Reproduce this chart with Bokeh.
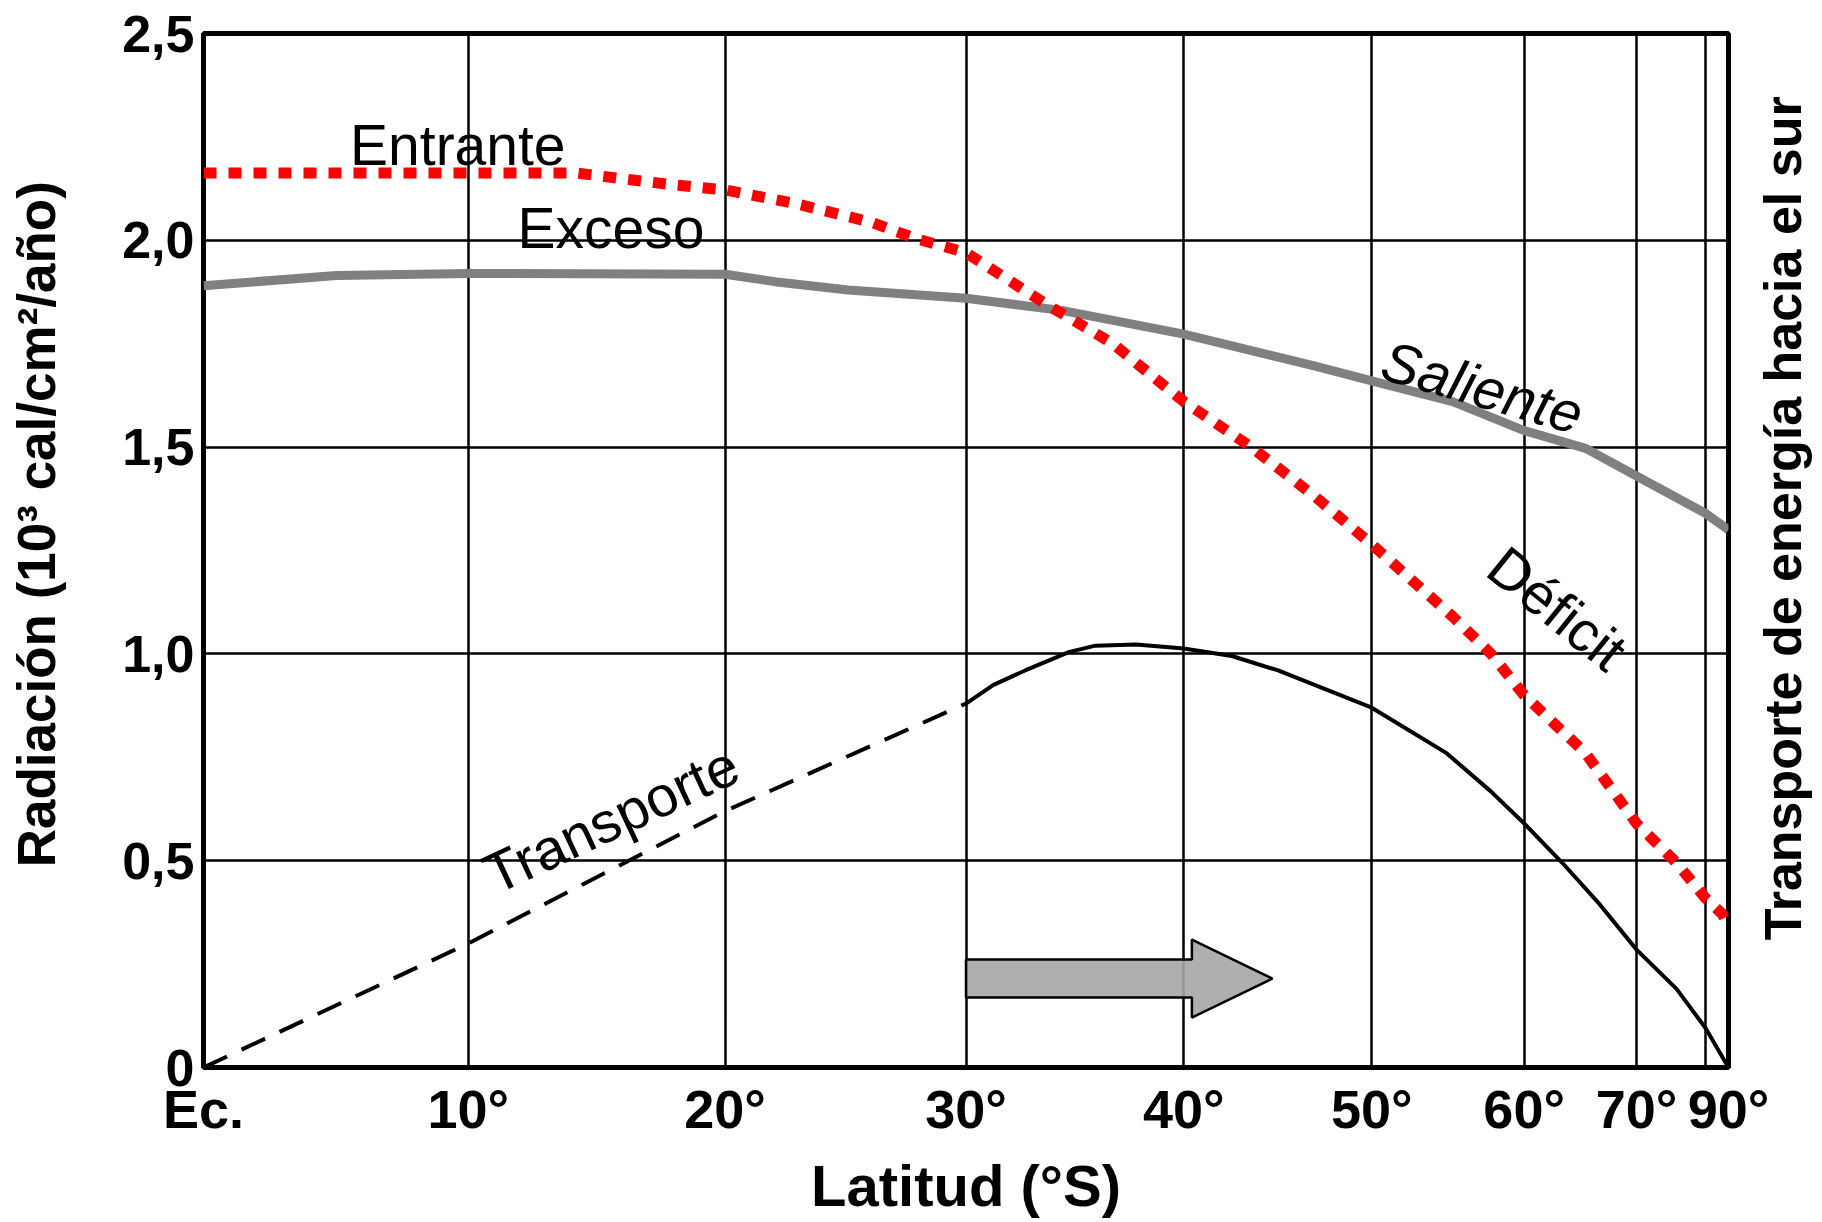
import numpy as np
from bokeh.plotting import figure
from bokeh.layouts import row
from bokeh.models import (Range1d, FixedTicker, CustomJSTickFormatter, Label)
from bokeh.embed import file_html
from bokeh.resources import INLINE

# ---------------- data ----------------
lat_ticks = [0, 10, 20, 30, 40, 50, 60, 70, 80, 90]
y_ticks = [0, 0.5, 1.0, 1.5, 2.0, 2.5]

entrante_lat = [0, 10, 14.1, 16.2, 18.1, 20, 22.9, 26, 27.8, 30, 33.7, 35, 36.6, 40,
                43.4, 46.8, 50, 55, 57.6, 60, 65, 70, 75, 80, 85, 90]
entrante_val = [2.163, 2.163, 2.163, 2.147, 2.133, 2.122, 2.088, 2.043, 2.005, 1.97,
                1.84, 1.80, 1.75, 1.61, 1.50, 1.38, 1.265, 1.09, 1.0, 0.90, 0.76,
                0.59, 0.495, 0.41, 0.37, 0.34]

saliente_lat = [0, 5, 10, 20, 22, 25, 30, 34.3, 40, 46.8, 50, 55, 60, 65, 70, 80, 90]
saliente_val = [1.89, 1.915, 1.92, 1.918, 1.90, 1.88, 1.86, 1.83, 1.773, 1.696, 1.66,
                1.61, 1.54, 1.497, 1.43, 1.34, 1.30]

transp_dash_lat = [0, 10, 20, 30]
transp_dash_val = [0.0, 0.30, 0.62, 0.88]

transp_lat = [30, 31.2, 32.6, 34.6, 35.8, 37.7, 40, 42.4, 44.8, 50, 54.6, 57.6, 60,
              63, 66.1, 70, 75, 80, 90]
transp_val = [0.88, 0.925, 0.96, 1.005, 1.02, 1.023, 1.013, 0.995, 0.96, 0.87, 0.76,
              0.667, 0.59, 0.495, 0.40, 0.285, 0.19, 0.096, 0.0]

# southward-transport arrow (latitudes of tail, head base, tip; radiation level)
arrow_lats = [30, 40.4, 44.5]
arrow_level = 0.215

LEFT_TITLE = "Radiaci\u00f3n (10\u00b3 cal/cm\u00b2/a\u00f1o)"
RIGHT_TITLE = "Transporte de energ\u00eda hacia el sur"
X_TITLE = "Latitud (\u00b0S)"


def sx(lat):
    """Area-weighted latitude scale: position = sin(latitude)."""
    return np.sin(np.radians(np.asarray(lat, dtype=float)))


FONT = "Liberation Sans"
H = 1220
LEFT_W, RIGHT_W = 100, 87                  # side strips holding the vertical titles
MB_L, MB_R, MB_T, MB_B = 103, 92, 33, 153  # borders of the main figure
FRAME_W = 1525
MAIN_W = MB_L + FRAME_W + MB_R
frame_h = H - MB_T - MB_B

p = figure(width=MAIN_W, height=H, output_backend="svg", toolbar_location=None,
           x_range=Range1d(0, 1), y_range=Range1d(0, 2.5),
           min_border_left=MB_L, min_border_right=MB_R, min_border_top=MB_T,
           min_border_bottom=MB_B)
p.background_fill_color = "white"
p.border_fill_color = "white"
p.outline_line_color = "black"
p.outline_line_width = 5

xax = p.xaxis[0]
xax.ticker = FixedTicker(ticks=list(sx(lat_ticks)))
xax.formatter = CustomJSTickFormatter(code="""
const lat = Math.round(Math.asin(Math.max(-1, Math.min(1, tick))) * 180 / Math.PI);
if (lat === 0) return "Ec.";
if (lat === 80) return "";
return lat + "\u00b0";
""")
xax.axis_label = X_TITLE
xax.axis_label_text_font_size = "58px"
xax.axis_label_standoff = 11
xax.major_label_text_font_size = "54px"
xax.major_label_standoff = 5

yax = p.yaxis[0]
yax.ticker = FixedTicker(ticks=y_ticks)
yax.formatter = CustomJSTickFormatter(code="""
if (tick === 0) return "0";
return tick.toFixed(1).replace(".", ",");
""")
yax.major_label_text_font_size = "52px"
yax.major_label_standoff = 3

for ax in (xax, yax):
    ax.axis_line_color = None
    ax.major_tick_line_color = None
    ax.minor_tick_line_color = None
    ax.axis_label_text_font = FONT
    ax.axis_label_text_font_style = "bold"
    ax.axis_label_text_color = "black"
    ax.major_label_text_font = FONT
    ax.major_label_text_font_style = "bold"
    ax.major_label_text_color = "black"

# ---- grid ----
p.xgrid.ticker = FixedTicker(ticks=list(sx(lat_ticks)))
p.ygrid.ticker = FixedTicker(ticks=y_ticks)
for g in (p.xgrid[0], p.ygrid[0]):
    g.grid_line_color = "black"
    g.grid_line_width = 2.5
    g.grid_line_alpha = 1.0

# ---- curves ----
p.line(sx(saliente_lat), saliente_val, line_color="#808080", line_width=9,
       line_cap="butt", line_join="round")
p.line(sx(entrante_lat), entrante_val, line_color="#ff0000", line_width=11,
       line_dash="13 12", line_cap="butt")
p.line(sx(transp_dash_lat), transp_dash_val, line_color="black", line_width=4,
       line_dash="26 16")
p.line(sx(transp_lat), transp_val, line_color="black", line_width=4, line_join="round")

# ---- arrow (patch built from the arrow parameters) ----
px_per_unit = frame_h / 2.5
shaft = 19 / px_per_unit
head = 39 / px_per_unit
xa, xb, xc = sx(arrow_lats)
ax_x = [xa, xb, xb, xc, xb, xb, xa]
ax_y = [arrow_level + shaft, arrow_level + shaft, arrow_level + head, arrow_level,
        arrow_level - head, arrow_level - shaft, arrow_level - shaft]
p.patch(ax_x, ax_y, fill_color="#a6a6a6", fill_alpha=0.9, line_color="black",
        line_width=2.5)

# ---- curve annotations ----
def note(text, lat, val, angle_deg=0, style="normal", size="57px"):
    p.add_layout(Label(x=float(sx(lat)), y=val, text=text, angle=np.radians(angle_deg),
                       text_align="center", text_baseline="middle",
                       text_font=FONT, text_font_size=size, text_font_style=style,
                       text_color="black"))

note("Entrante", 9.6, 2.23)
note("Exceso", 15.5, 2.03)
note("Saliente", 57.0, 1.645, angle_deg=-16, style="italic")
note("D\u00e9ficit", 62.6, 1.11, angle_deg=-39)
note("Transporte", 15.5, 0.60, angle_deg=25)


# ---- side strips carrying the two vertical titles (read bottom to top) ----
def title_strip(width, text, cx, cy, size, transparent=False):
    s = figure(width=width, height=H, output_backend="svg", toolbar_location=None,
               x_range=Range1d(0, width), y_range=Range1d(0, H),
               x_axis_location=None, y_axis_location=None, min_border=0)
    s.grid.visible = False
    s.outline_line_color = None
    s.background_fill_color = None if transparent else "white"
    s.border_fill_color = None if transparent else "white"
    s.add_layout(Label(x=cx, y=H - cy, text=text, angle=np.pi / 2,
                       text_align="center", text_baseline="middle",
                       text_font=FONT, text_font_size=size, text_font_style="bold",
                       text_color="black"))
    return s


left = title_strip(LEFT_W, LEFT_TITLE, 36, 579, "53px")
# the right strip overlaps the (empty) right border of the main figure
right_x0 = LEFT_W + MB_L + FRAME_W
right = title_strip(RIGHT_W, RIGHT_TITLE, 1782 - right_x0, 572, "52px", transparent=True)
right.margin = (0, 0, 0, -MB_R)

layout = row(left, p, right)
open("out.html", "w").write(file_html(layout, INLINE))
